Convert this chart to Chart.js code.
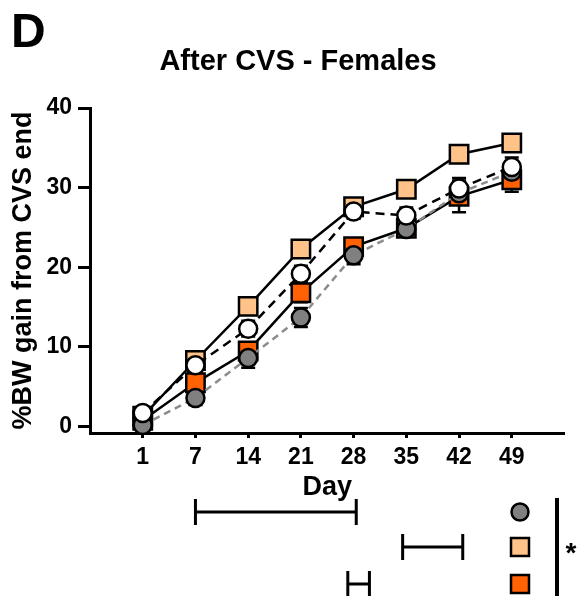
<!DOCTYPE html>
<html>
<head>
<meta charset="utf-8">
<script src="https://cdn.jsdelivr.net/npm/chart.js@4/dist/chart.umd.min.js"></script>
<style>
  html, body { margin: 0; padding: 0; background: #fff; }
  #wrap { width: 580px; height: 596px; position: relative; }
</style>
</head>
<body>
<div id="wrap"><canvas id="chart"></canvas></div>
<script>
const days = ['1', '7', '14', '21', '28', '35', '42', '49']
const yTicks = [0, 10, 20, 30, 40]

// % BW gain, mean and SEM per group
const grayMean   = [0.2, 3.6, 8.6, 13.7, 21.5, 24.8, 29.3, 32.0]
const grayErr    = [0.8, 0.9, 1.2, 1.2, 1.1, 0.9, 1.0, 1.0]
const lightMean  = [1.3, 8.3, 15.1, 22.3, 27.6, 29.8, 34.2, 35.6]
const lightErr   = [0.7, 0.8, 0.9, 0.9, 0.9, 0.8, 0.9, 0.9]
const orangeMean = [0.8, 5.5, 9.5, 16.8, 22.6, 24.9, 28.9, 31.0]
const orangeErr  = [0.7, 0.9, 1.1, 1.2, 1.0, 1.0, 2.0, 1.5]
const whiteMean  = [1.7, 7.7, 12.3, 19.2, 27.0, 26.5, 29.9, 32.6]
const whiteErr   = [0.6, 0.8, 1.0, 1.0, 0.9, 1.0, 1.3, 1.2]

// significance brackets under the plot (day index from / to)
const sigFrom = [1, 4.93, 3.89]
const sigTo   = [4.05, 6.07, 4.3]

const FONT = '"Liberation Sans", Arial, sans-serif'
const GRAY = '#808080'
const LIGHT = '#FFC389'
const ORANGE = '#FF6103'

const pts = arr => arr.map((v, i) => ({ x: i, y: v }))

const errorBars = {
  id: 'errorBars',
  beforeDatasetsDraw(chart) {
    const ctx = chart.ctx
    const y = chart.scales.y
    ctx.save()
    ctx.strokeStyle = '#000'
    ctx.lineWidth = 2.5
    chart.data.datasets.forEach((ds, di) => {
      const meta = chart.getDatasetMeta(di)
      meta.data.forEach((p, i) => {
        const v = ds.data[i].y, e = ds.err[i]
        const y1 = y.getPixelForValue(v + e), y2 = y.getPixelForValue(v - e)
        ctx.beginPath()
        ctx.moveTo(p.x, y1); ctx.lineTo(p.x, y2)
        ctx.moveTo(p.x - 7, y1); ctx.lineTo(p.x + 7, y1)
        ctx.moveTo(p.x - 7, y2); ctx.lineTo(p.x + 7, y2)
        ctx.stroke()
      })
    })
    ctx.restore()
  }
}

const extras = {
  id: 'extras',
  afterDraw(chart) {
    const ctx = chart.ctx
    const x = chart.scales.x
    ctx.save()
    ctx.fillStyle = '#000'
    ctx.textAlign = 'left'
    ctx.textBaseline = 'middle'
    ctx.font = 'bold 48px ' + FONT
    ctx.fillText('D', 11, 34)
    ctx.textAlign = 'center'
    ctx.font = 'bold 29px ' + FONT
    ctx.fillText('After CVS - Females', 298, 62)

    // brackets
    const rowsY = [512, 547, 584]
    ctx.strokeStyle = '#000'
    ctx.lineWidth = 3
    sigFrom.forEach((f, i) => {
      const a = x.getPixelForValue(f), b = x.getPixelForValue(sigTo[i])
      const yy = rowsY[i]
      ctx.beginPath()
      ctx.moveTo(a, yy); ctx.lineTo(b, yy)
      ctx.moveTo(a, yy - 13); ctx.lineTo(a, yy + 13)
      ctx.moveTo(b, yy - 13); ctx.lineTo(b, yy + 13)
      ctx.stroke()
    })

    // group symbols
    ctx.lineWidth = 2.5
    ctx.beginPath()
    ctx.arc(520, rowsY[0], 8.5, 0, Math.PI * 2)
    ctx.fillStyle = GRAY
    ctx.fill(); ctx.stroke()
    ;[LIGHT, ORANGE].forEach((c, i) => {
      ctx.fillStyle = c
      ctx.fillRect(511, rowsY[i + 1] - 9, 18, 18)
      ctx.strokeRect(511, rowsY[i + 1] - 9, 18, 18)
    })
    ctx.lineWidth = 4
    ctx.beginPath()
    ctx.moveTo(557, 498); ctx.lineTo(557, 596)
    ctx.stroke()
    ctx.fillStyle = '#000'
    ctx.font = 'bold 28px ' + FONT
    ctx.fillText('*', 571, 554)
    ctx.restore()
  }
}

const lineBase = {
  borderWidth: 2.5,
  pointBorderWidth: 2.5,
  pointBorderColor: '#000',
  tension: 0,
  fill: false
}

const data = {
  datasets: [
    { ...lineBase, label: 'white', data: pts(whiteMean), err: whiteErr,
      borderColor: '#000', borderDash: [9, 6], pointStyle: 'circle',
      pointRadius: 9, pointBackgroundColor: '#fff' },
    { ...lineBase, label: 'gray', data: pts(grayMean), err: grayErr,
      borderColor: '#8c8c8c', borderDash: [7, 5], pointStyle: 'circle',
      pointRadius: 9, pointBackgroundColor: GRAY },
    { ...lineBase, label: 'orange', data: pts(orangeMean), err: orangeErr,
      borderColor: '#000', pointStyle: 'rect',
      pointRadius: 13, pointBackgroundColor: ORANGE },
    { ...lineBase, label: 'light', data: pts(lightMean), err: lightErr,
      borderColor: '#000', pointStyle: 'rect',
      pointRadius: 13, pointBackgroundColor: LIGHT }
  ]
}

const chart_config = {
  type: 'line',
  data: data,
  options: {
    responsive: false,
    animation: false,
    layout: { padding: { top: 108, right: 2, left: 0, bottom: 0 } },
    plugins: {
      legend: { display: false },
      title: { display: false },
      tooltip: { enabled: false }
    },
    scales: {
      x: {
        type: 'linear',
        min: -1,
        max: 8,
        afterBuildTicks: s => { s.ticks = days.map((d, i) => ({ value: i })) },
        afterFit: s => { s.height = 163 },
        ticks: {
          callback: (v) => days[v],
          color: '#000',
          padding: 6,
          maxRotation: 0,
          autoSkip: false,
          font: { family: FONT, size: 23, weight: 'bold' }
        },
        grid: { drawOnChartArea: false, drawTicks: true, tickLength: 5, tickColor: '#000', tickWidth: 3 },
        border: { display: true, color: '#000', width: 3 },
        title: {
          display: true, text: 'Day', color: '#000',
          padding: { top: 0, bottom: 92 },
          font: { family: FONT, size: 27, weight: 'bold' }
        }
      },
      y: {
        min: -0.8,
        max: 40,
        afterBuildTicks: s => { s.ticks = yTicks.map(v => ({ value: v })) },
        afterFit: s => { s.width = 90 },
        ticks: {
          color: '#000',
          padding: 6,
          font: { family: FONT, size: 23, weight: 'bold' }
        },
        grid: { drawOnChartArea: false, drawTicks: true, tickLength: 12, tickColor: '#000', tickWidth: 3 },
        border: { display: true, color: '#000', width: 3 },
        title: {
          display: true, text: '%BW gain from CVS end', color: '#000',
          padding: { top: 7, bottom: 0 },
          font: { family: FONT, size: 27, weight: 'bold' }
        }
      }
    }
  },
  plugins: [errorBars, extras]
}

const canvas = document.getElementById('chart')
canvas.width = 580
canvas.height = 596
const table = new Chart(canvas, chart_config)
</script>
</body>
</html>
